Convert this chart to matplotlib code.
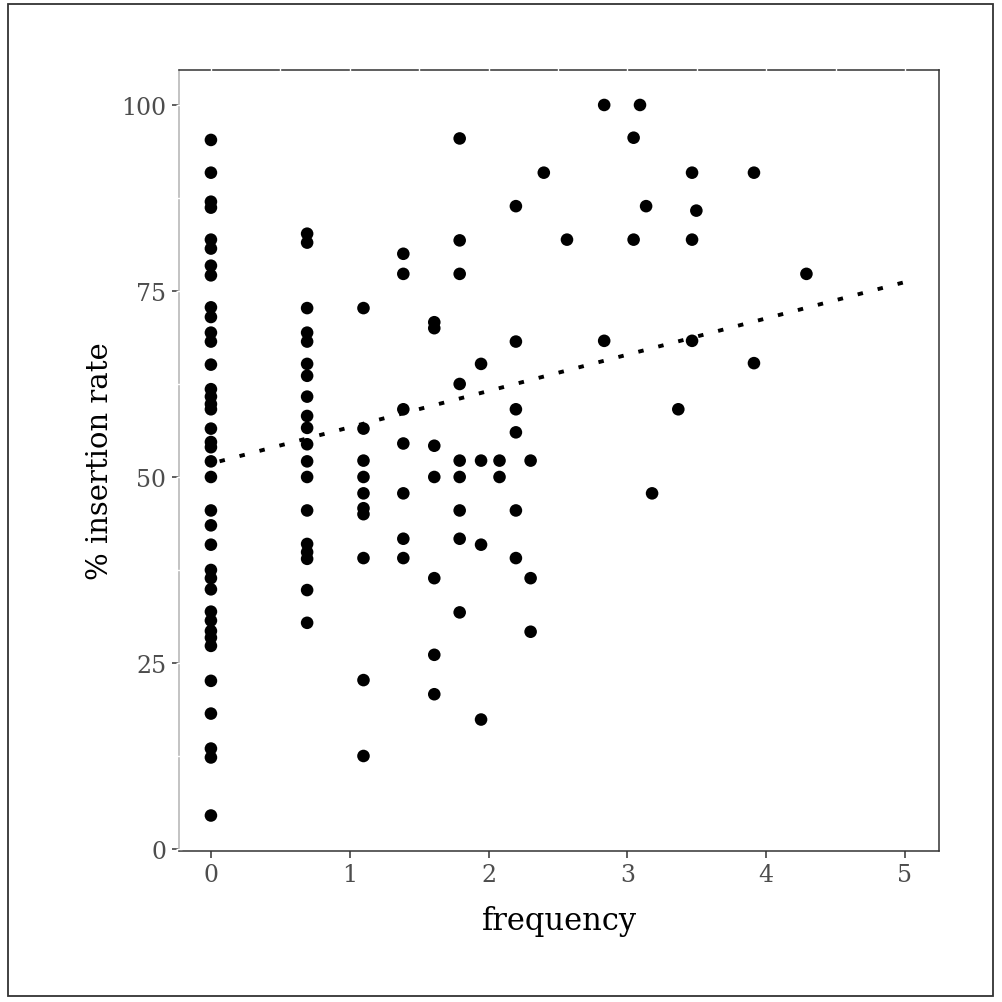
import numpy as np
import matplotlib
matplotlib.use("Agg")
import matplotlib.pyplot as plt
from matplotlib.patches import Rectangle

plt.rcParams["font.family"] = ["DejaVu Serif"]

# log-frequency groups and the insertion rates (%) observed in each
freq_groups = [0.0, 0.693, 1.099, 1.386, 1.609, 1.792, 1.946, 2.079, 2.197, 2.303,
               2.398, 2.565, 2.833, 3.045, 3.091, 3.135, 3.178, 3.367, 3.466, 3.497,
               3.912, 4.290]
rates_by_group = [
    [95.3, 90.9, 87.0, 86.2, 81.9, 80.7, 78.4, 77.1, 72.8, 71.5, 69.4, 68.2, 65.1,
     61.8, 60.8, 59.8, 59.1, 56.5, 54.7, 54.0, 52.1, 50.0, 45.5, 43.5, 40.9, 37.5,
     36.4, 34.9, 31.9, 30.7, 29.3, 28.4, 27.3, 22.6, 18.2, 13.5, 12.3, 4.5],
    [82.7, 81.5, 72.7, 69.4, 68.2, 65.2, 63.6, 60.8, 58.2, 56.6, 54.4, 52.1, 50.0,
     45.5, 41.0, 39.9, 39.0, 34.8, 30.4],
    [72.7, 56.5, 52.2, 50.0, 47.8, 45.8, 45.0, 39.1, 22.7, 12.5],
    [80.0, 77.3, 59.1, 54.5, 47.8, 41.7, 39.1],
    [70.8, 70.0, 54.2, 50.0, 36.4, 26.1, 20.8],
    [95.5, 81.8, 77.3, 62.5, 52.2, 50.0, 45.5, 41.7, 31.8],
    [65.2, 52.2, 40.9, 17.4],
    [52.2, 50.0],
    [86.4, 68.2, 59.1, 56.0, 45.5, 39.1],
    [52.2, 36.4, 29.2],
    [90.9],
    [81.9],
    [100.0, 68.3],
    [95.6, 81.9],
    [100.0],
    [86.4],
    [47.8],
    [59.1],
    [90.9, 81.9, 68.3],
    [85.8],
    [90.9, 65.3],
    [77.3],
]

# fitted trend line (intercept, slope)
trend_intercept = 51.8
trend_slope = 4.88

x_ticks = [0, 1, 2, 3, 4, 5]
y_ticks = [0, 25, 50, 75, 100]

freq = np.concatenate([[f] * len(r) for f, r in zip(freq_groups, rates_by_group)])
rate = np.concatenate(rates_by_group)

W, H = 1002, 1003
fig = plt.figure(figsize=(W / 100, H / 100), dpi=100)
ax = fig.add_axes([179 / W, 1 - 852 / H, (939 - 179) / W, (852 - 71) / H])

ax.scatter(freq, rate, s=82, color="black", edgecolors="none", zorder=3)

xs = np.array([0, 5])
ax.plot(xs, trend_intercept + trend_slope * xs, color="black", lw=2.8,
        linestyle=(3.0, (1.4, 3.9)), dash_capstyle="butt", zorder=4)

ax.set_xlim(-0.23, 5.245)
ax.set_ylim(-0.27, 104.7)
ax.set_xticks(x_ticks)
ax.set_yticks(y_ticks)
ax.tick_params(axis="both", labelsize=17, labelcolor="#4d4d4d", color="#333333",
               length=5, width=1.1, pad=4)

for side in ["top", "right", "bottom"]:
    ax.spines[side].set_color("#333333")
    ax.spines[side].set_linewidth(1.1)
ax.spines["left"].set_color("#b3b3b3")
ax.spines["left"].set_linewidth(1.1)

# white panel grid only shows where it crosses the border
gx = np.arange(0, 5.01, 0.5)
gy = np.arange(0, 100.1, 12.5)
ax.vlines(gx, 0.993, 1.007, transform=ax.get_xaxis_transform(), color="white",
          lw=1.0, clip_on=False, zorder=5)
ax.hlines(gy, -0.004, 0.004, transform=ax.get_yaxis_transform(), color="white",
          lw=1.0, clip_on=False, zorder=5)

ax.set_xlabel("frequency", fontsize=22, labelpad=13)
ax.set_ylabel("% insertion rate", fontsize=21, labelpad=5)

fig.patches.append(Rectangle((8 / W, 1 - 997 / H), (993 - 8) / W, (997 - 5) / H,
                             transform=fig.transFigure, fill=False,
                             edgecolor="#333333", lw=1.3))

fig.savefig("out.png", dpi=100)
